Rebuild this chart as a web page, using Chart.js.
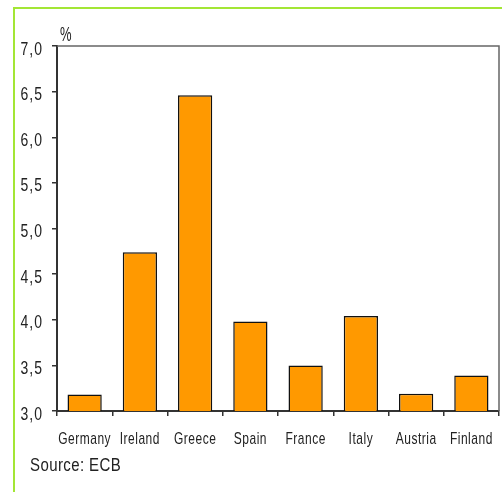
<!DOCTYPE html>
<html>
<head>
<meta charset="utf-8">
<script src="https://cdn.jsdelivr.net/npm/chart.js@4.4.1/dist/chart.umd.min.js"></script>
<style>
  html, body { margin: 0; padding: 0; background: #fff; }
  #frame {
    position: absolute; left: 13px; top: 7px;
    width: 487px; height: 483px;
    border-left: 2px solid #a3e635; border-top: 2px solid #a3e635;
  }
  #chart { display: block; }
</style>
</head>
<body>
<div id="frame"><canvas id="chart" width="487" height="483"></canvas></div>
<script>
// Data
const countries = ['Germany', 'Ireland', 'Greece', 'Spain', 'France', 'Italy', 'Austria', 'Finland'];
const rates = [3.18, 4.74, 6.46, 3.98, 3.50, 4.04, 3.19, 3.39];
const yMin = 3.0;
const yMax = 7.0;
const yStep = 0.5;
const unitLabel = '%';
const sourceLabel = 'Source: ECB';

const FAMILY = "'Liberation Sans', Arial, sans-serif";
const TEXT_COLOR = '#222';

const fmtY = v => v.toFixed(1).replace('.', ',');

// the original uses a tall narrow face, so text is drawn a bit stretched
function tallText(ctx, text, x, y, size, sy, align, spacing) {
    ctx.save();
    ctx.translate(x, y);
    ctx.scale(1, sy);
    ctx.font = size + 'px ' + FAMILY;
    ctx.letterSpacing = (spacing || 0) + 'px';
    ctx.textAlign = align;
    ctx.textBaseline = 'alphabetic';
    ctx.fillStyle = TEXT_COLOR;
    ctx.fillText(text, 0, 0);
    ctx.restore();
}

const extras = {
    id: 'extras',
    beforeDatasetsDraw(chart) {
        const { ctx, chartArea: a } = chart;
        ctx.save();
        ctx.strokeStyle = '#666';
        ctx.lineWidth = 1.5;
        ctx.beginPath();
        ctx.moveTo(a.left, a.top);
        ctx.lineTo(a.right, a.top);
        ctx.lineTo(a.right, a.bottom);
        ctx.stroke();
        ctx.restore();
    },
    afterDraw(chart) {
        const { ctx } = chart;
        const xs = chart.scales.x, ys = chart.scales.y;
        // category labels
        xs.ticks.forEach((t, i) => {
            tallText(ctx, chart.data.labels[i], xs.getPixelForTick(i), xs.top + 32.5, 12, 1.35, 'center', 0.5);
        });
        // value labels
        ys.ticks.forEach((t, i) => {
            tallText(ctx, fmtY(t.value), ys.right - 14, ys.getPixelForTick(i) + 8.5, 14, 1.3, 'right', 1);
        });
        tallText(ctx, unitLabel, 45, 32, 13, 1.5, 'left', 0);
        tallText(ctx, sourceLabel, 15, 461.5, 15, 1.25, 'left', 0.4);
    }
};

new Chart(document.getElementById('chart'), {
    type: 'bar',
    data: {
        labels: countries,
        datasets: [{
            data: rates,
            backgroundColor: '#ff9900',
            borderColor: '#111',
            borderWidth: 1.5,
            borderSkipped: 'bottom',
            barPercentage: 0.62,
            categoryPercentage: 1.0
        }]
    },
    options: {
        responsive: false,
        animation: false,
        layout: { padding: { top: 37, right: 3, left: 0, bottom: 0 } },
        plugins: {
            legend: { display: false },
            tooltip: { enabled: false }
        },
        scales: {
            x: {
                grid: { display: true, drawOnChartArea: false, offset: true, tickLength: 5, color: '#333', lineWidth: 1.5 },
                border: { color: '#333', width: 2 },
                ticks: { display: false, autoSkip: false },
                afterFit(scale) {
                    scale.height = 81;
                    scale.paddingLeft = 0;
                    scale.paddingRight = 0;
                }
            },
            y: {
                min: yMin,
                max: yMax,
                grid: { drawOnChartArea: false, tickLength: 5, color: '#333', lineWidth: 1.5 },
                border: { color: '#333', width: 2 },
                ticks: { display: false, stepSize: yStep },
                afterFit(scale) {
                    scale.width = 42;
                    scale.paddingTop = 0;
                    scale.paddingBottom = 0;
                }
            }
        }
    },
    plugins: [extras]
});
</script>
</body>
</html>
